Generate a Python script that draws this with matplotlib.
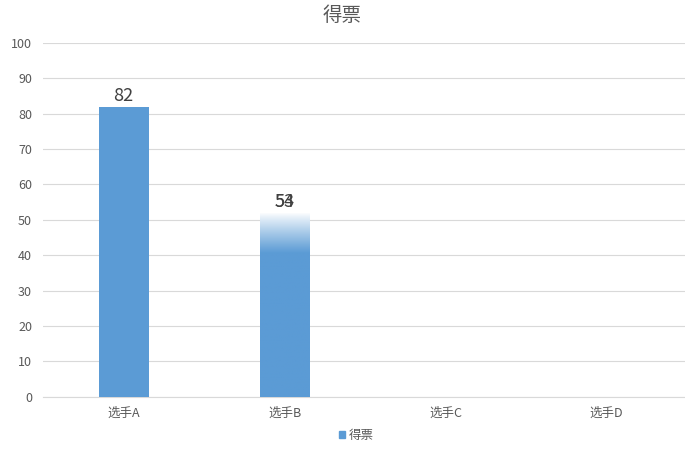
import matplotlib.pyplot as plt
import numpy as np
from matplotlib.colors import LinearSegmentedColormap

plt.rcParams['font.family'] = ['Noto Sans CJK SC', 'DejaVu Sans']

categories = ['选手A', '选手B', '选手C', '选手D']
votes = [82, 52, 0, 0]
labels = [['82'], ['54', '53'], [], []]
faded = [False, True, False, False]

blue = '#5b9bd5'
grey = '#595959'

fig = plt.figure(figsize=(6.85, 4.51), dpi=100)
ax = fig.add_axes([0.063, 0.12, 0.94, 0.785])

x = np.arange(len(categories))
bars = ax.bar(x, votes, width=0.31, color=blue, zorder=3)

# the second bar fades to white near its top
cmap = LinearSegmentedColormap.from_list('fade', ['white', blue])
for b, f in zip(bars, faded):
    if not f:
        continue
    b.set_facecolor('none')
    x0, w, h = b.get_x(), b.get_width(), b.get_height()
    t = np.linspace(0, 1, 200)  # 0 = top, 1 = bottom
    grad = np.clip(t / 0.22, 0, 1) ** 0.9
    im = ax.imshow(grad.reshape(-1, 1), cmap=cmap, vmin=0, vmax=1,
                   extent=[x0, x0 + w, 0, h], aspect='auto', origin='upper', zorder=3)
    im.set_clip_path(b)

for xi, v, labs in zip(x, votes, labels):
    for t in labs:
        ax.text(xi, v + 0.5, t, ha='center', va='bottom', fontsize=13,
                color='#404040', zorder=4)

ax.set_xlim(-0.5, 3.5)
ax.set_ylim(0, 100)
ax.set_yticks(range(0, 101, 10))
ax.set_xticks(x)
ax.set_xticklabels(categories)
ax.tick_params(axis='both', length=0, labelsize=9, colors=grey)
ax.tick_params(axis='y', pad=8)
ax.tick_params(axis='x', pad=7)
ax.grid(axis='y', color='#d9d9d9', linewidth=0.8, zorder=0)
for s in ['top', 'right', 'left']:
    ax.spines[s].set_visible(False)
ax.spines['bottom'].set_color('#d9d9d9')

fig.suptitle('得票', y=0.99, fontsize=14, color=grey)

fig.legend([plt.Rectangle((0, 0), 1, 1, color=blue)], ['得票'], loc='lower center',
           bbox_to_anchor=(0.52, -0.005), frameon=False, fontsize=9,
           handlelength=0.5, handleheight=0.5, handletextpad=0.3, labelcolor=grey)

fig.savefig('out.png', dpi=100)
